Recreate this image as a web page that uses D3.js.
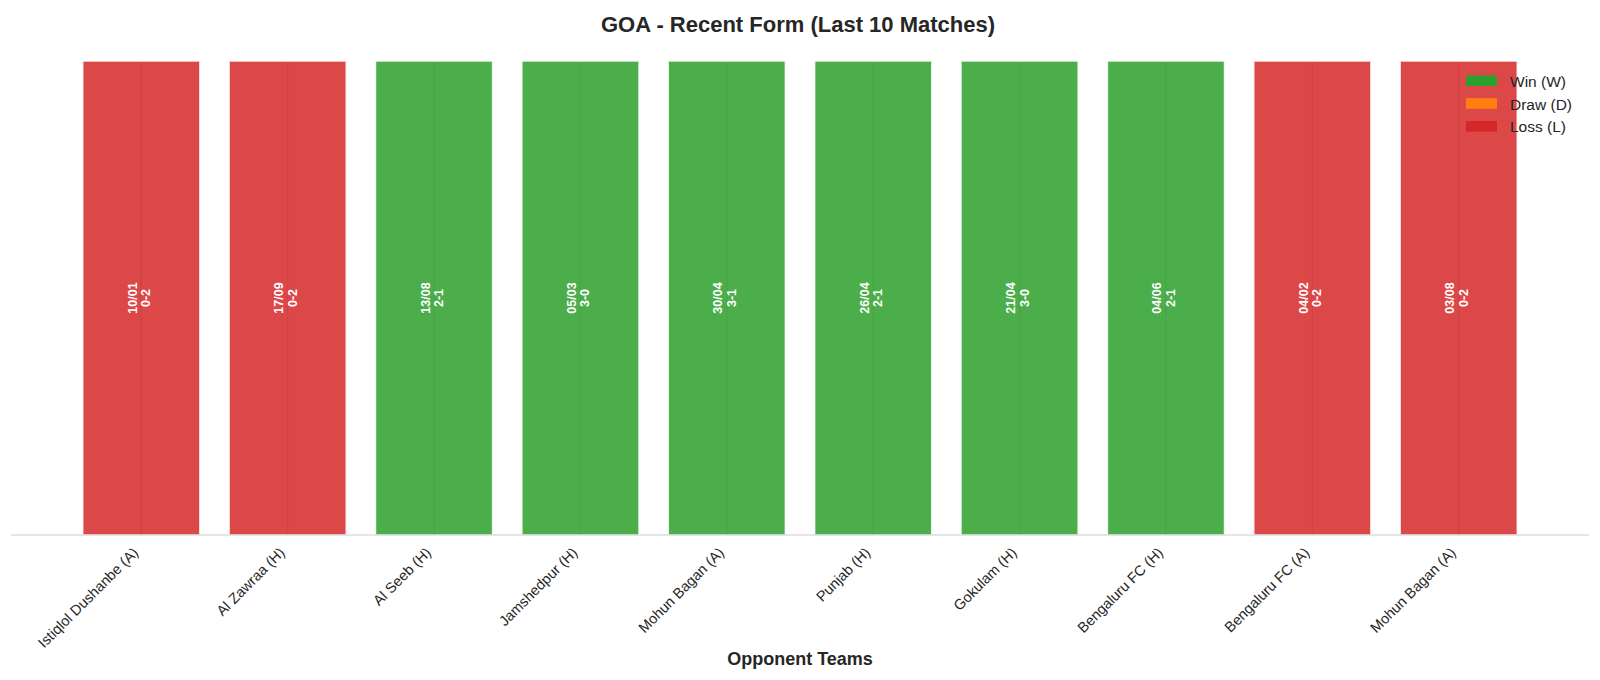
<!DOCTYPE html>
<html><head><meta charset="utf-8">
<script src="https://cdn.jsdelivr.net/npm/d3@7"></script>
<style>body{margin:0;background:#fff;} text{font-family:"Liberation Sans",Arial,sans-serif;}</style>
</head><body>
<svg id="c" width="1600" height="680"></svg>
<script>
const opponents = ["Istiqlol Dushanbe (A)","Al Zawraa (H)","Al Seeb (H)","Jamshedpur (H)","Mohun Bagan (A)","Punjab (H)","Gokulam (H)","Bengaluru FC (H)","Bengaluru FC (A)","Mohun Bagan (A)"];
const dates = ["10/01","17/09","13/08","05/03","30/04","26/04","21/04","04/06","04/02","03/08"];
const scores = ["0-2","0-2","2-1","3-0","3-1","2-1","3-0","2-1","0-2","0-2"];
const results = ["L","L","W","W","W","W","W","W","L","L"];
const heights = [1,1,1,1,1,1,1,1,1,1];
const legendLabels = ["Win (W)","Draw (D)","Loss (L)"];
const legendKeys = ["W","D","L"];
const colors = {W:"#2ca02c", D:"#ff7f0e", L:"#d62728"};

const svg = d3.select("#c");
const pLeft = 11, pRight = 1589, pTop = 37.3, pBottom = 535;
const x = d3.scaleLinear().domain([-0.89, 9.89]).range([pLeft, pRight]);
const y = d3.scaleLinear().domain([0, 1.05]).range([pBottom, pTop]);
const bw = 0.8;

svg.append("text").attr("x", 798).attr("y", 31.5).attr("text-anchor","middle")
  .attr("font-size", 22).attr("font-weight","bold").attr("fill","#262626")
  .text("GOA - Recent Form (Last 10 Matches)");

const g = svg.append("g");
opponents.forEach((o,i)=>{
  const x0 = x(i - bw/2), x1 = x(i + bw/2);
  g.append("rect").attr("x", x0).attr("y", y(heights[i])).attr("width", x1-x0)
    .attr("height", y(0)-y(heights[i])).attr("fill", colors[results[i]]).attr("fill-opacity",0.85)
    .attr("stroke","#fff").attr("stroke-width",1.5).attr("stroke-opacity",0.85);
  g.append("line").attr("x1", x(i)).attr("x2", x(i)).attr("y1", y(heights[i])+1).attr("y2", y(0))
    .attr("stroke", "#000").attr("stroke-opacity",0.05).attr("stroke-width",1.2);
  const t = g.append("text").attr("transform",`translate(${x(i)},${y(heights[i]/2)}) rotate(-90)`)
    .attr("text-anchor","middle").attr("font-size",12.5).attr("font-weight","bold").attr("fill","#fff");
  t.append("tspan").attr("x",0).attr("y",-4.5).text(dates[i]);
  t.append("tspan").attr("x",0).attr("y",9).text(scores[i]);
  svg.append("text").attr("transform",`translate(${x(i)-2},${pBottom+18.5}) rotate(-45)`)
    .attr("text-anchor","end").attr("font-size",14.5).attr("fill","#262626").text(o);
});

svg.append("line").attr("x1", pLeft).attr("x2", pRight).attr("y1", pBottom).attr("y2", pBottom)
  .attr("stroke","#cccccc").attr("stroke-width",1.2);

svg.append("text").attr("x", 800).attr("y", 665).attr("text-anchor","middle")
  .attr("font-size",18).attr("font-weight","bold").attr("fill","#262626").text("Opponent Teams");

legendLabels.forEach((l,i)=>{
  const yy = 80.7 + i*22.8;
  svg.append("rect").attr("x",1466).attr("y",yy-5.3).attr("width",31).attr("height",10.6)
    .attr("fill", colors[legendKeys[i]]);
  svg.append("text").attr("x",1510).attr("y",yy+6).attr("font-size",15.5).attr("fill","#262626").text(l);
});
</script>
</body></html>
